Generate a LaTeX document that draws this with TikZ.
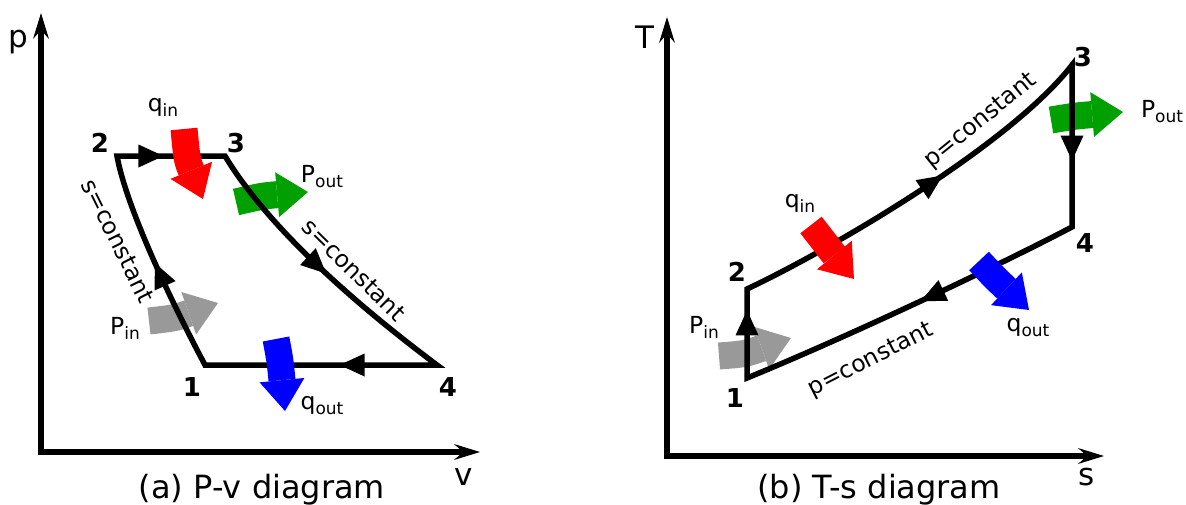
\documentclass[tikz,border=0pt]{standalone}
\usepackage{fontspec}
\setmainfont{DejaVu Sans}
\usetikzlibrary{arrows.meta,decorations.markings}
\newcommand\mysub[1]{\raisebox{-5pt}{\fontsize{17}{17}\selectfont #1}}
\definecolor{fgreen}{HTML}{00A000}
\definecolor{fgray}{HTML}{999999}
\definecolor{fred}{HTML}{FF0000}
\definecolor{fblue}{HTML}{0000FF}
\tikzset{
  axisline/.style={line width=5.5pt, line join=miter,
    {Stealth[length=26pt,width=16pt,inset=9pt,line width=0pt]}-{Stealth[length=26pt,width=16pt,inset=9pt,line width=0pt]}},
  cycline/.style={line width=5.5pt, line join=miter},
  midarrow/.style={postaction={decorate}, decoration={markings,
    mark=at position #1 with {\arrow{Triangle[length=25pt,width=23pt,line width=0pt]}}}},
  fat/.style={line width=27pt, draw=#1, -{Triangle[length=31pt,width=45pt,line width=0pt]}},
  lbl/.style={font=\fontsize{23.5}{27}\selectfont, inner sep=0pt},
  num/.style={font=\fontsize{26}{30}\selectfont\bfseries, inner sep=0pt},
  axlbl/.style={font=\fontsize{31}{34}\selectfont, inner sep=0pt},
  captxt/.style={font=\fontsize{32}{36}\selectfont, anchor=base, inner sep=0pt},
}
\begin{document}
\begin{tikzpicture}[x=1pt,y=-1pt]
\useasboundingbox (0,0) rectangle (1186,504);

% ================= (a) P-v diagram =================
\coordinate (ao) at (41,452);
\coordinate (ay) at (41,13);
\coordinate (ax) at (480,452);
\coordinate (a1) at (205,365);
\coordinate (a2) at (117,156);
\coordinate (a3) at (225,156);
\coordinate (a4) at (437,365);

% arrows underneath the cycle lines
\coordinate (agrayS) at (149,321); \coordinate (agrayE) at (218,303);
\draw[fat=fgray] (agrayS) .. controls (175,318) .. (agrayE);
\coordinate (agreenS) at (236,202); \coordinate (agreenE) at (308,192);
\draw[fat=fgreen] (agreenS) .. controls (262,196) .. (agreenE);

\draw[axisline] (ay) -- (ao) -- (ax);
\draw[cycline] (a1) .. controls (160,280) and (125,200) .. (a2) -- (a3)
  .. controls (260,214) and (330,285) .. (a4) -- cycle;
\path[midarrow=0.5] (a1) .. controls (160,280) and (125,200) .. (a2);
\path[midarrow=0.43] (a2) -- (a3);
\path[midarrow=0.52] (a3) .. controls (260,214) and (330,285) .. (a4);
\path[midarrow=0.42] (a4) -- (a1);

% arrows on top
\coordinate (aredS) at (184,129); \coordinate (aredE) at (203,199);
\draw[fat=fred] (aredS) .. controls (187,160) .. (aredE);
\coordinate (ablueS) at (276,339); \coordinate (ablueE) at (285,411);
\draw[fat=fblue] (ablueS) .. controls (280,360) .. (ablueE);

\node[axlbl] (lp) at (18,42) {p};
\node[axlbl] (lv) at (464,477) {v};
\node[num] (n2a) at (100,143) {2};
\node[num] (n3a) at (236,143) {3};
\node[num] (n1a) at (192,387) {1};
\node[num] (n4a) at (448,387) {4};
\node[lbl] (qina) at (163,107) {q\mysub{in}};
\node[lbl] (pouta) at (322,177) {P\mysub{out}};
\node[lbl] (pina) at (125,328) {P\mysub{in}};
\node[lbl] (qouta) at (322,406) {q\mysub{out}};
\node[lbl, rotate=-63.6] (sca) at (118,241) {s=constant};
\node[lbl, rotate=-44.5] (scb) at (354,270) {s=constant};
\node[captxt] (capa) at (262,498) {(a) P-v diagram};

% ================= (b) T-s diagram =================
\coordinate (bo) at (667,456);
\coordinate (by) at (667,17);
\coordinate (bx) at (1104,456);
\coordinate (b1) at (747,378);
\coordinate (b2) at (747,289);
\coordinate (b3) at (1072,65);
\coordinate (b4) at (1072,227);

\coordinate (bgrayS) at (719,356); \coordinate (bgrayE) at (791,338);
\draw[fat=fgray] (bgrayS) .. controls (745,354) .. (bgrayE);
\coordinate (bgreenS) at (1051,120); \coordinate (bgreenE) at (1123,112);
\draw[fat=fgreen] (bgreenS) .. controls (1075,116) .. (bgreenE);

\draw[axisline] (by) -- (bo) -- (bx);
\draw[cycline] (b2) .. controls (830,250) and (1010,145) .. (b3) -- (b4)
  .. controls (990,270) and (840,340) .. (b1) -- cycle;
\path[midarrow=0.76] (b1) -- (b2);
\path[midarrow=0.57] (b2) .. controls (830,250) and (1010,145) .. (b3);
\path[midarrow=0.59] (b3) -- (b4);
\path[midarrow=0.47] (b4) .. controls (990,270) and (840,340) .. (b1);

\coordinate (bredS) at (811,225); \coordinate (bredE) at (854,279);
\draw[fat=fred] (bredS) .. controls (822,240) .. (bredE);
\coordinate (bblueS) at (979,261); \coordinate (bblueE) at (1029,310);
\draw[fat=fblue] (bblueS) .. controls (995,278) .. (bblueE);

\node[axlbl] (lT) at (645,37) {T};
\node[axlbl] (ls) at (1087,477) {s};
\node[num] (n2b) at (737,272) {2};
\node[num] (n3b) at (1083,57) {3};
\node[num] (n1b) at (735,398) {1};
\node[num] (n4b) at (1085,243) {4};
\node[lbl] (qinb) at (800,203) {q\mysub{in}};
\node[lbl] (poutb) at (1162,112) {P\mysub{out}};
\node[lbl] (pinb) at (704,327) {P\mysub{in}};
\node[lbl] (qoutb) at (1028,328) {q\mysub{out}};
\node[lbl, rotate=39] (pcu) at (981,121) {p=constant};
\node[lbl, rotate=27] (pcl) at (871,360) {p=constant};
\node[captxt] (capb) at (879,498) {(b) T-s diagram};
\end{tikzpicture}
\end{document}
